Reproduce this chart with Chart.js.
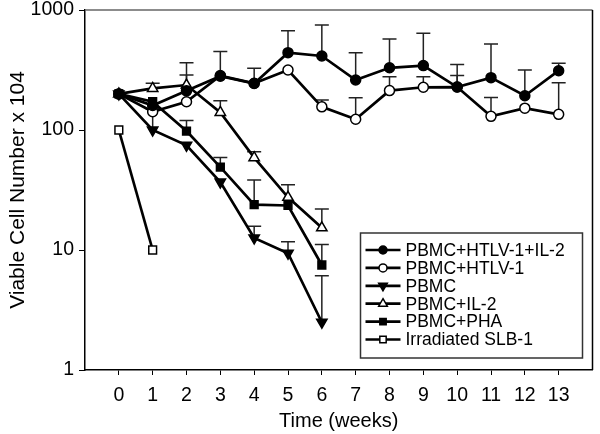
<!DOCTYPE html>
<html>
<head>
<meta charset="utf-8">
<script src="https://cdn.jsdelivr.net/npm/chart.js@4/dist/chart.umd.min.js"></script>
<style>
    html, body { margin: 0; padding: 0; background: #fff; }
    #wrap { width: 600px; height: 434px; }
</style>
</head>
<body>
<div id="wrap"><canvas id="cellChart" width="600" height="434"></canvas></div>
<script>
// 数据
const weeks = [0, 1, 2, 3, 4, 5, 6, 7, 8, 9, 10, 11, 12, 13];
const yTickValues = [1, 10, 100, 1000];

const seriesLabels = ['PBMC+HTLV-1+IL-2', 'PBMC+HTLV-1', 'PBMC', 'PBMC+IL-2', 'PBMC+PHA', 'Irradiated SLB-1'];

const htlvIl2 = [200, 160, 212, 281, 244, 441, 414, 261, 330, 344, 228, 273, 193, 312];
const htlvIl2Err = [null, null, 364, 450, 327, 672, 750, 441, 573, 640, 352, 521, 316, 360];

const htlv = [200, 142, 172, 284, 245, 316, 156, 123, 213, 227, 228, 130, 152, 135];
const htlvErr = [null, null, null, null, null, null, 178, 186, 278, 278, 284, 187, null, 248];

const pbmc = [200, 100, 74.5, 36.8, 12.6, 9.4, 2.5];
const pbmcErr = [null, 150, null, null, 15.8, 11.7, 6.1];

const pbmcIl2 = [200, 222, 237, 140, 58.8, 27.5, 15.3];
const pbmcIl2Err = [null, 245, 287, 175, 66, 35, 22];

const pbmcPha = [200, 172, 98, 49, 23.9, 23.5, 7.5];
const pbmcPhaErr = [null, null, 120, 59, 38.3, null, 11.1];

const irradiated = [100, 10];

const FONT = 'Arial, "Liberation Sans", sans-serif';

function toPoints(vals) {
    return vals.map((v, i) => ({ x: weeks[i], y: v }));
}

function makeSet(label, vals, err, style, filled, rotation) {
    return {
        label: label,
        data: toPoints(vals),
        errUpper: err,
        borderColor: '#000',
        borderWidth: 2.7,
        pointStyle: style,
        pointRotation: rotation || 0,
        pointRadius: style === 'rect' ? 5.5 : (style === 'triangle' ? 6 : 5),
        pointBorderWidth: 1.5,
        pointBorderColor: '#000',
        pointBackgroundColor: filled ? '#000' : '#fff',
        backgroundColor: filled ? '#000' : '#fff',
        tension: 0
    };
}

const datasets = [
    makeSet(seriesLabels[0], htlvIl2, htlvIl2Err, 'circle', true),
    makeSet(seriesLabels[1], htlv, htlvErr, 'circle', false),
    makeSet(seriesLabels[2], pbmc, pbmcErr, 'triangle', true, 180),
    makeSet(seriesLabels[3], pbmcIl2, pbmcIl2Err, 'triangle', false),
    makeSet(seriesLabels[4], pbmcPha, pbmcPhaErr, 'rect', true),
    makeSet(seriesLabels[5], irradiated, null, 'rect', false)
];

// 误差线 (upper bars only)
const errorBarPlugin = {
    id: 'errorBars',
    beforeDatasetsDraw(chart) {
        const ctx = chart.ctx;
        const xs = chart.scales.x, ys = chart.scales.y;
        chart.data.datasets.forEach(ds => {
            if (!ds.errUpper) return;
            ds.data.forEach((pt, j) => {
                const top = ds.errUpper[j];
                if (top == null) return;
                const px = xs.getPixelForValue(pt.x);
                const py = ys.getPixelForValue(pt.y);
                const ty = ys.getPixelForValue(top);
                ctx.save();
                ctx.strokeStyle = '#222';
                ctx.lineWidth = 1.5;
                ctx.beginPath();
                ctx.moveTo(px, py);
                ctx.lineTo(px, ty);
                ctx.moveTo(px - 7, ty);
                ctx.lineTo(px + 7, ty);
                ctx.stroke();
                ctx.restore();
            });
        });
    }
};

// 边框 + 图例
const frameLegendPlugin = {
    id: 'frameLegend',
    afterDraw(chart) {
        const ctx = chart.ctx;
        const a = chart.chartArea;
        ctx.save();
        // top / right frame
        ctx.strokeStyle = '#666';
        ctx.lineWidth = 1.5;
        ctx.beginPath();
        ctx.moveTo(a.left, a.top);
        ctx.lineTo(a.right, a.top);
        ctx.stroke();
        ctx.strokeStyle = '#000';
        ctx.beginPath();
        ctx.moveTo(a.right, a.top);
        ctx.lineTo(a.right, a.bottom);
        ctx.stroke();

        // legend box
        const bw = 222, bh = 125;
        const bx = a.right - 10 - bw, by = a.bottom - 12 - bh;
        ctx.fillStyle = '#fff';
        ctx.fillRect(bx, by, bw, bh);
        ctx.strokeStyle = '#333';
        ctx.lineWidth = 1.5;
        ctx.strokeRect(bx, by, bw, bh);

        ctx.font = '17.5px ' + FONT;
        ctx.textBaseline = 'middle';
        ctx.textAlign = 'left';
        chart.data.datasets.forEach((ds, i) => {
            const cy = by + 17 + i * 17.9;
            ctx.strokeStyle = '#000';
            ctx.lineWidth = 2.7;
            ctx.beginPath();
            ctx.moveTo(bx + 5, cy);
            ctx.lineTo(bx + 40, cy);
            ctx.stroke();
            ctx.fillStyle = ds.pointBackgroundColor;
            ctx.strokeStyle = '#000';
            ctx.lineWidth = 1.5;
            Chart.helpers.drawPoint(ctx, {
                pointStyle: ds.pointStyle,
                rotation: ds.pointRotation,
                radius: ds.pointRadius - 1,
                borderWidth: 1.5
            }, bx + 22.5, cy);
            ctx.fillStyle = '#000';
            ctx.fillText(ds.label, bx + 45, cy + 1);
        });
        ctx.restore();
    }
};

const ctx = document.getElementById('cellChart').getContext('2d');
new Chart(ctx, {
    type: 'line',
    data: { datasets: datasets },
    plugins: [errorBarPlugin, frameLegendPlugin],
    options: {
        responsive: false,
        animation: false,
        devicePixelRatio: 1,
        layout: { padding: { top: 0, right: 1, left: 0, bottom: 0 } },
        plugins: {
            legend: { display: false },
            tooltip: { enabled: false }
        },
        scales: {
            x: {
                type: 'linear',
                min: -1,
                max: 14,
                afterBuildTicks: scale => {
                    scale.ticks = weeks.map(w => ({ value: w }));
                },
                afterFit: scale => { scale.height = 64; },
                grid: { display: true, drawOnChartArea: false, drawTicks: true, tickLength: 5, color: '#000' },
                border: { display: true, color: '#000', width: 1.5 },
                ticks: { color: '#000', font: { family: FONT, size: 19.5 }, padding: 9, maxRotation: 0, autoSkip: false },
                title: { display: true, text: 'Time (weeks)', color: '#000', font: { family: FONT, size: 20 }, padding: { top: 0, bottom: 1 } }
            },
            y: {
                type: 'logarithmic',
                min: 1,
                max: 1000,
                afterBuildTicks: scale => {
                    scale.ticks = yTickValues.map(v => ({ value: v }));
                },
                afterFit: scale => {
                    scale.width = 85;
                    scale.paddingTop = 10;
                    scale.paddingBottom = 0;
                },
                grid: { display: true, drawOnChartArea: false, drawTicks: true, tickLength: 6, color: '#000' },
                border: { display: true, color: '#000', width: 1.5 },
                ticks: { color: '#000', font: { family: FONT, size: 19.5 }, padding: 5, callback: v => String(v) },
                title: { display: true, text: 'Viable Cell Number x 104', color: '#000', font: { family: FONT, size: 21 }, padding: { top: 6, bottom: 0 } }
            }
        }
    }
});
</script>
</body>
</html>
